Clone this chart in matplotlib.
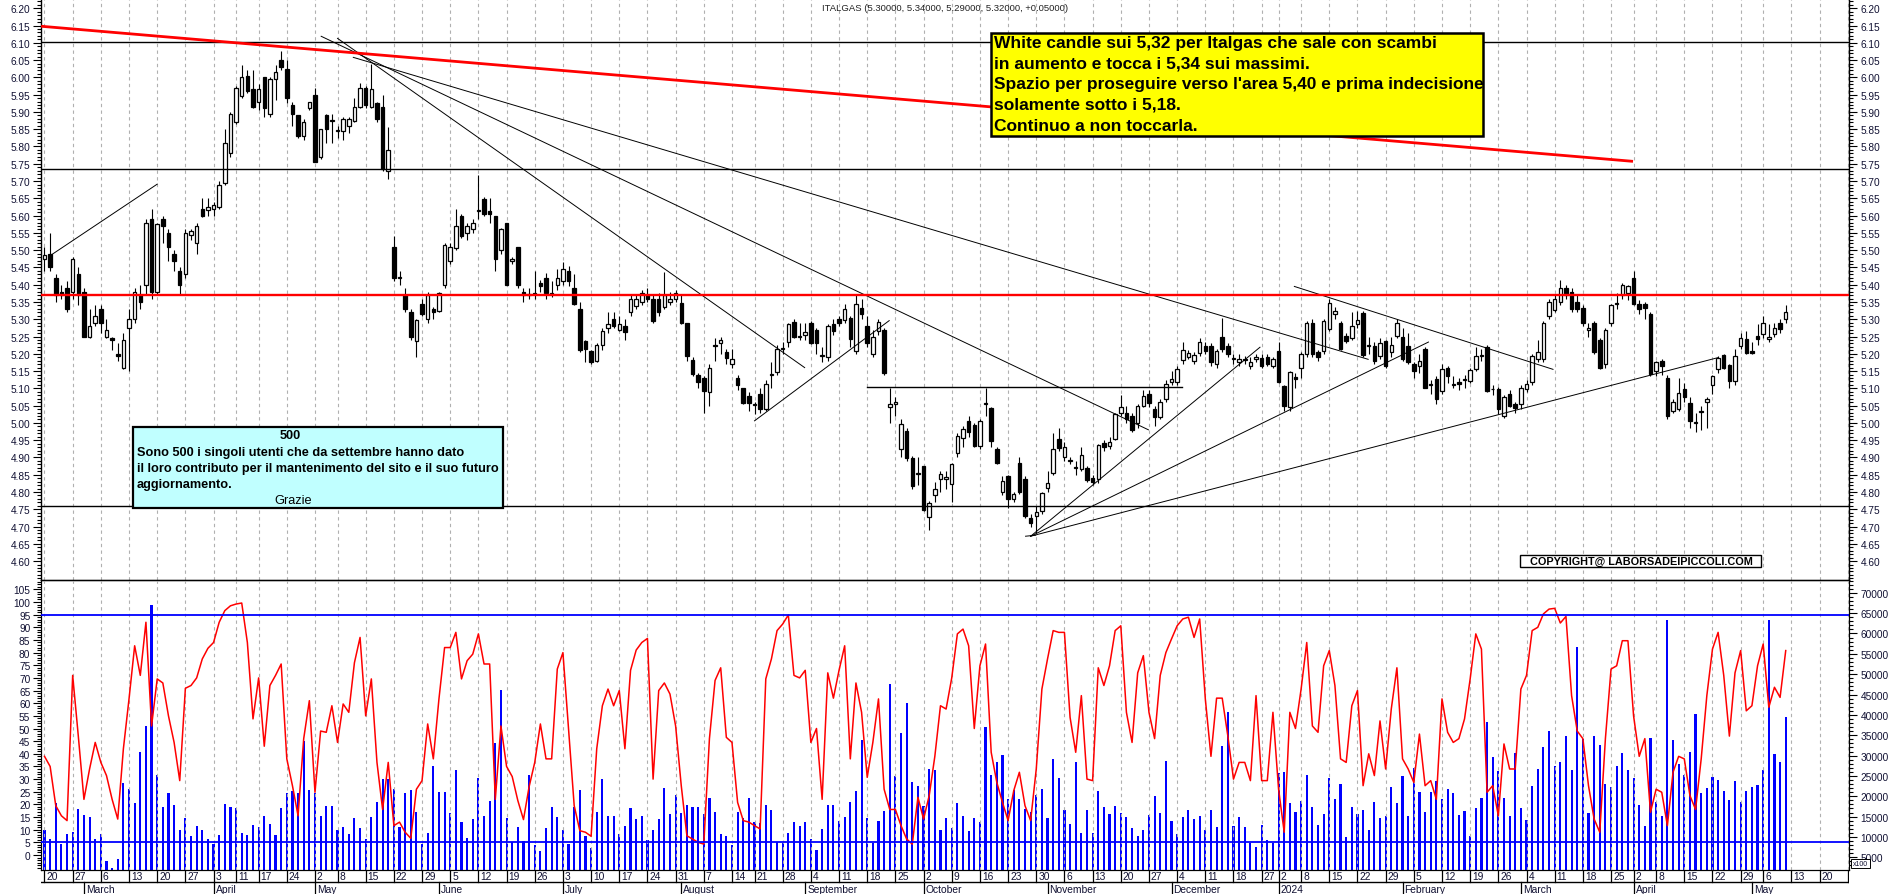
import numpy as np
import pandas as pd
import matplotlib
matplotlib.use('Agg')
import matplotlib.pyplot as plt
from matplotlib.patches import Rectangle
from matplotlib.ticker import MultipleLocator, FixedLocator

plt.rcParams['font.family'] = ['Liberation Sans', 'DejaVu Sans']

# ---------------- data ----------------
TITLE = 'ITALGAS (5.30000, 5.34000, 5.29000, 5.32000, +0.05000)'
FIRST_DAY = '2023-02-20'
HOLIDAYS = ['2023-04-07', '2023-04-10', '2023-05-01', '2023-08-15', '2023-12-25',
            '2023-12-26', '2024-01-01', '2024-03-29', '2024-04-01', '2024-05-01']

OPEN = [5.475, 5.49, 5.42, 5.38, 5.39, 5.38, 5.43, 5.38, 5.25, 5.29,
        5.33, 5.25, 5.245, 5.20, 5.16, 5.275, 5.30, 5.37, 5.40, 5.59,
        5.38, 5.59, 5.55, 5.49, 5.44, 5.43, 5.545, 5.52, 5.62, 5.615,
        5.62, 5.625, 5.695, 5.78, 5.87, 5.945, 6.005, 5.965, 5.93, 6.00,
        5.895, 5.995, 6.05, 6.025, 5.92, 5.89, 5.83, 5.91, 5.95, 5.77,
        5.89, 5.875, 5.846, 5.845, 5.86, 5.875, 5.915, 5.97, 5.915, 5.925,
        5.915, 5.73, 5.51, 5.42, 5.37, 5.32, 5.237, 5.343, 5.30, 5.33,
        5.325, 5.40, 5.47, 5.505, 5.60, 5.55, 5.56, 5.613, 5.648, 5.612,
        5.60, 5.50, 5.58, 5.47, 5.51, 5.38, 5.37, 5.374, 5.405, 5.42,
        5.374, 5.40, 5.41, 5.44, 5.39, 5.33, 5.238, 5.208, 5.18, 5.226,
        5.276, 5.30, 5.27, 5.28, 5.32, 5.338, 5.35, 5.37, 5.36, 5.36,
        5.335, 5.35, 5.36, 5.348, 5.29, 5.182, 5.138, 5.13, 5.088, 5.222,
        5.232, 5.206, 5.17, 5.131, 5.10, 5.078, 5.053, 5.085, 5.04, 5.138,
        5.146, 5.213, 5.233, 5.292, 5.249, 5.254, 5.29, 5.27, 5.193, 5.192,
        5.285, 5.30, 5.298, 5.305, 5.208, 5.334, 5.28, 5.199, 5.266, 5.27,
        5.045, 5.055, 4.924, 4.977, 4.897, 4.853, 4.875, 4.729, 4.79, 4.837,
        4.838, 4.822, 4.914, 4.955, 5.006, 4.993, 4.933, 5.056, 5.044, 4.924,
        4.80, 4.846, 4.781, 4.885, 4.839, 4.726, 4.731, 4.745, 4.813, 4.856,
        4.953, 4.90, 4.891, 4.87, 4.866, 4.87, 4.84, 4.837, 4.941, 4.933,
        4.953, 5.03, 5.03, 5.02, 4.999, 5.05, 5.083, 5.04, 5.018, 5.068,
        5.119, 5.117, 5.182, 5.192, 5.179, 5.203, 5.223, 5.223, 5.17, 5.25,
        5.223, 5.184, 5.175, 5.183, 5.165, 5.186, 5.189, 5.19, 5.165, 5.208,
        5.107, 5.047, 5.134, 5.16, 5.199, 5.29, 5.204, 5.208, 5.273, 5.314,
        5.29, 5.252, 5.247, 5.286, 5.319, 5.222, 5.222, 5.194, 5.237, 5.205,
        5.252, 5.25, 5.223, 5.17, 5.165, 5.215, 5.111, 5.128, 5.092, 5.16,
        5.111, 5.119, 5.125, 5.121, 5.155, 5.193, 5.22, 5.097, 5.099, 5.02,
        5.083, 5.054, 5.054, 5.097, 5.117, 5.184, 5.184, 5.31, 5.328, 5.35,
        5.39, 5.38, 5.35, 5.334, 5.269, 5.29, 5.24, 5.17, 5.29, 5.343,
        5.371, 5.375, 5.42, 5.343, 5.343, 5.314, 5.15, 5.179, 5.131, 5.035,
        5.04, 5.099, 5.059, 4.999, 5.031, 5.061, 5.109, 5.155, 5.196, 5.167,
        5.121, 5.223, 5.244, 5.208, 5.252, 5.257, 5.242, 5.257, 5.29, 5.30]

HIGH = [5.51, 5.55, 5.43, 5.40, 5.41, 5.48, 5.45, 5.39, 5.33, 5.34,
        5.34, 5.30, 5.25, 5.23, 5.26, 5.33, 5.39, 5.40, 5.59, 5.62,
        5.58, 5.60, 5.56, 5.50, 5.45, 5.56, 5.56, 5.58, 5.65, 5.65,
        5.64, 5.70, 5.85, 5.90, 5.975, 6.035, 6.02, 6.02, 5.98, 6.00,
        6.00, 6.035, 6.075, 6.05, 5.93, 5.89, 5.88, 5.93, 5.97, 5.85,
        5.895, 5.895, 5.86, 5.885, 5.885, 5.94, 5.985, 5.975, 6.04, 5.93,
        5.95, 5.855, 5.54, 5.44, 5.39, 5.33, 5.30, 5.36, 5.38, 5.335,
        5.38, 5.52, 5.52, 5.62, 5.605, 5.58, 5.59, 5.718, 5.655, 5.65,
        5.60, 5.565, 5.58, 5.48, 5.51, 5.39, 5.39, 5.44, 5.415, 5.435,
        5.41, 5.445, 5.465, 5.455, 5.43, 5.35, 5.24, 5.21, 5.23, 5.275,
        5.32, 5.32, 5.31, 5.30, 5.37, 5.37, 5.385, 5.39, 5.37, 5.375,
        5.436, 5.38, 5.385, 5.37, 5.29, 5.19, 5.145, 5.135, 5.17, 5.245,
        5.25, 5.215, 5.215, 5.14, 5.10, 5.09, 5.06, 5.10, 5.125, 5.175,
        5.225, 5.235, 5.29, 5.30, 5.29, 5.29, 5.295, 5.275, 5.22, 5.285,
        5.30, 5.31, 5.345, 5.31, 5.37, 5.36, 5.31, 5.27, 5.30, 5.275,
        5.10, 5.075, 5.01, 4.985, 4.905, 4.90, 4.875, 4.775, 4.83, 4.86,
        4.86, 4.885, 4.97, 4.99, 5.02, 5.00, 5.01, 5.10, 5.045, 4.93,
        4.845, 4.85, 4.80, 4.90, 4.845, 4.735, 4.76, 4.80, 4.86, 4.97,
        4.985, 4.945, 4.90, 4.89, 4.93, 4.875, 4.85, 4.94, 4.95, 4.96,
        5.03, 5.08, 5.05, 5.03, 5.055, 5.095, 5.095, 5.05, 5.07, 5.125,
        5.15, 5.165, 5.235, 5.21, 5.205, 5.245, 5.235, 5.23, 5.215, 5.305,
        5.23, 5.20, 5.20, 5.195, 5.19, 5.20, 5.20, 5.20, 5.19, 5.235,
        5.11, 5.15, 5.145, 5.205, 5.295, 5.30, 5.21, 5.30, 5.36, 5.335,
        5.295, 5.26, 5.32, 5.325, 5.325, 5.25, 5.235, 5.245, 5.24, 5.25,
        5.30, 5.275, 5.26, 5.175, 5.20, 5.22, 5.125, 5.135, 5.17, 5.165,
        5.135, 5.13, 5.14, 5.16, 5.22, 5.215, 5.225, 5.11, 5.105, 5.08,
        5.095, 5.06, 5.11, 5.125, 5.20, 5.24, 5.295, 5.36, 5.37, 5.415,
        5.40, 5.39, 5.37, 5.34, 5.29, 5.295, 5.245, 5.275, 5.345, 5.375,
        5.405, 5.40, 5.44, 5.355, 5.35, 5.32, 5.18, 5.185, 5.14, 5.07,
        5.13, 5.115, 5.075, 5.03, 5.05, 5.075, 5.14, 5.195, 5.20, 5.17,
        5.215, 5.26, 5.265, 5.235, 5.285, 5.31, 5.285, 5.29, 5.30, 5.34]

LOW = [5.44, 5.44, 5.35, 5.36, 5.32, 5.36, 5.34, 5.25, 5.245, 5.28,
       5.26, 5.245, 5.21, 5.18, 5.155, 5.15, 5.29, 5.33, 5.37, 5.36,
       5.37, 5.52, 5.47, 5.44, 5.37, 5.42, 5.53, 5.49, 5.595, 5.60,
       5.60, 5.62, 5.69, 5.77, 5.865, 5.94, 5.955, 5.91, 5.905, 5.885,
       5.885, 5.935, 6.02, 5.925, 5.86, 5.825, 5.82, 5.905, 5.755, 5.765,
       5.81, 5.81, 5.825, 5.82, 5.84, 5.87, 5.91, 5.91, 5.91, 5.87,
       5.73, 5.705, 5.41, 5.40, 5.32, 5.24, 5.19, 5.31, 5.29, 5.30,
       5.32, 5.39, 5.46, 5.50, 5.535, 5.53, 5.55, 5.59, 5.60, 5.58,
       5.44, 5.49, 5.40, 5.46, 5.39, 5.35, 5.36, 5.36, 5.38, 5.36,
       5.365, 5.385, 5.40, 5.395, 5.34, 5.205, 5.175, 5.17, 5.175, 5.21,
       5.26, 5.275, 5.265, 5.24, 5.31, 5.33, 5.34, 5.35, 5.29, 5.31,
       5.33, 5.34, 5.35, 5.285, 5.18, 5.135, 5.10, 5.03, 5.05, 5.18,
       5.20, 5.17, 5.16, 5.095, 5.055, 5.035, 5.025, 5.03, 5.035, 5.10,
       5.14, 5.20, 5.22, 5.245, 5.24, 5.24, 5.228, 5.20, 5.175, 5.18,
       5.255, 5.28, 5.29, 5.22, 5.20, 5.30, 5.22, 5.19, 5.255, 5.14,
       5.00, 5.02, 4.90, 4.89, 4.81, 4.82, 4.745, 4.69, 4.77, 4.80,
       4.81, 4.77, 4.90, 4.93, 4.96, 4.93, 4.925, 5.02, 4.93, 4.88,
       4.79, 4.755, 4.77, 4.795, 4.725, 4.70, 4.68, 4.735, 4.80, 4.85,
       4.92, 4.89, 4.88, 4.85, 4.86, 4.83, 4.82, 4.825, 4.92, 4.925,
       4.95, 5.02, 5.00, 4.975, 4.985, 5.045, 5.045, 4.99, 5.01, 5.06,
       5.11, 5.11, 5.17, 5.185, 5.17, 5.195, 5.20, 5.165, 5.16, 5.205,
       5.19, 5.17, 5.165, 5.17, 5.155, 5.175, 5.16, 5.165, 5.16, 5.115,
       5.035, 5.035, 5.10, 5.13, 5.19, 5.19, 5.18, 5.20, 5.265, 5.30,
       5.21, 5.23, 5.24, 5.275, 5.19, 5.20, 5.17, 5.185, 5.16, 5.19,
       5.245, 5.18, 5.17, 5.13, 5.145, 5.10, 5.085, 5.055, 5.085, 5.115,
       5.10, 5.095, 5.10, 5.115, 5.15, 5.18, 5.09, 5.08, 5.025, 5.015,
       5.045, 5.03, 5.04, 5.09, 5.11, 5.175, 5.175, 5.30, 5.32, 5.34,
       5.36, 5.32, 5.32, 5.28, 5.25, 5.20, 5.155, 5.16, 5.28, 5.33,
       5.36, 5.355, 5.34, 5.315, 5.30, 5.135, 5.135, 5.14, 5.01, 5.03,
       5.035, 5.06, 4.985, 4.975, 4.98, 4.985, 5.085, 5.145, 5.155, 5.10,
       5.11, 5.215, 5.20, 5.20, 5.225, 5.245, 5.235, 5.25, 5.26, 5.29]

CLOSE = [5.485, 5.45, 5.37, 5.37, 5.33, 5.475, 5.37, 5.25, 5.28, 5.31,
         5.29, 5.27, 5.24, 5.195, 5.24, 5.30, 5.38, 5.35, 5.58, 5.38,
         5.575, 5.57, 5.51, 5.47, 5.40, 5.55, 5.555, 5.57, 5.60, 5.625,
         5.63, 5.69, 5.81, 5.895, 5.97, 6.00, 5.96, 5.915, 5.965, 5.91,
         5.995, 6.015, 6.03, 5.94, 5.895, 5.83, 5.87, 5.93, 5.756, 5.85,
         5.85, 5.878, 5.847, 5.88, 5.88, 5.915, 5.97, 5.92, 5.965, 5.88,
         5.735, 5.79, 5.42, 5.423, 5.33, 5.25, 5.298, 5.315, 5.37, 5.32,
         5.375, 5.515, 5.51, 5.57, 5.54, 5.57, 5.58, 5.616, 5.605, 5.605,
         5.475, 5.56, 5.40, 5.475, 5.40, 5.37, 5.372, 5.376, 5.395, 5.375,
         5.376, 5.42, 5.445, 5.41, 5.345, 5.212, 5.213, 5.175, 5.226, 5.266,
         5.286, 5.28, 5.285, 5.262, 5.36, 5.358, 5.375, 5.36, 5.295, 5.32,
         5.37, 5.358, 5.375, 5.29, 5.194, 5.141, 5.117, 5.093, 5.16, 5.224,
         5.24, 5.189, 5.185, 5.109, 5.059, 5.057, 5.055, 5.04, 5.112, 5.140,
         5.213, 5.217, 5.286, 5.25, 5.251, 5.262, 5.232, 5.232, 5.195, 5.28,
         5.266, 5.29, 5.331, 5.244, 5.343, 5.314, 5.232, 5.25, 5.292, 5.143,
         5.055, 5.060, 4.996, 4.897, 4.816, 4.855, 4.748, 4.767, 4.808, 4.851,
         4.843, 4.88, 4.962, 4.982, 4.974, 4.933, 5.006, 5.058, 4.948, 4.885,
         4.832, 4.779, 4.793, 4.80, 4.731, 4.709, 4.741, 4.796, 4.827, 4.924,
         4.926, 4.929, 4.893, 4.872, 4.906, 4.836, 4.83, 4.937, 4.929, 4.945,
         5.025, 5.047, 5.012, 4.98, 5.05, 5.078, 5.057, 5.018, 5.061, 5.112,
         5.128, 5.155, 5.211, 5.202, 5.196, 5.234, 5.208, 5.175, 5.208, 5.213,
         5.199, 5.186, 5.184, 5.186, 5.177, 5.19, 5.165, 5.17, 5.184, 5.119,
         5.05, 5.146, 5.126, 5.199, 5.29, 5.199, 5.192, 5.295, 5.346, 5.324,
         5.213, 5.237, 5.281, 5.298, 5.196, 5.224, 5.18, 5.232, 5.165, 5.225,
         5.29, 5.184, 5.175, 5.15, 5.18, 5.102, 5.113, 5.07, 5.155, 5.136,
         5.113, 5.112, 5.127, 5.152, 5.194, 5.195, 5.093, 5.099, 5.04, 5.076,
         5.049, 5.044, 5.102, 5.112, 5.194, 5.204, 5.29, 5.35, 5.36, 5.39,
         5.37, 5.33, 5.329, 5.288, 5.276, 5.205, 5.16, 5.27, 5.34, 5.347,
         5.40, 5.395, 5.343, 5.329, 5.334, 5.141, 5.177, 5.165, 5.02, 5.06,
         5.086, 5.076, 5.006, 5.001, 5.033, 5.068, 5.136, 5.189, 5.16, 5.121,
         5.194, 5.247, 5.202, 5.203, 5.244, 5.29, 5.25, 5.276, 5.271, 5.32]

# oscillator (left scale of the lower panel)
OSC = [39, 35, 19.5, 15.5, 13.6, 71, 47, 22, 34, 44.5,
       36.6, 31.4, 22, 14.2, 42, 61.7, 82.7, 71, 92, 51,
       69.6, 68, 55, 44.5, 29.4, 65.9, 67, 70, 77.5, 81.7,
       84, 92, 96.6, 98.5, 99.2, 99.6, 84, 53.8, 70, 43,
       67, 71, 75.5, 38, 27.4, 15.5, 46, 61, 24.8, 49,
       48.5, 59, 44.5, 59.7, 56.4, 76, 86, 55, 69.6, 36.6,
       18, 36.6, 11.6, 13, 9, 6.6, 26, 29.4, 51.8, 38,
       61.7, 82, 82, 88, 69.6, 76.8, 79.4, 87.4, 75.5, 75.5,
       22, 51, 35, 31, 21.5, 14, 27, 36.6, 51.8, 38,
       38, 73.5, 80, 50, 19.5, 9.6, 9, 7.4, 42, 59,
       65.6, 59, 65, 42, 73, 81, 84, 85.6, 30, 65,
       68, 63.6, 51, 27.4, 7.6, 6.3, 5, 4.3, 46, 69,
       74, 46.5, 44.5, 20.8, 13.6, 13, 11.6, 10.3, 69.6, 77.5,
       88.7, 91.3, 94.9, 71, 70, 73, 44.5, 50, 22, 72,
       62, 73, 82.7, 38, 68, 56.4, 30.7, 44.5, 61.7, 26,
       18, 18, 11.6, 6.3, 4.3, 22.8, 14.2, 23.5, 39, 59,
       57.7, 70, 87.4, 89.3, 82.7, 50, 74.8, 83.4, 40.6, 28.7,
       20.8, 13.6, 25.4, 32.7, 19.5, 13.6, 34, 65.6, 77.5, 88.7,
       88, 88, 54.4, 40.6, 63, 30, 29.4, 74, 67, 74.8,
       88.7, 90.6, 56.4, 44.5, 72, 78.8, 56.4, 46, 71, 80,
       85.4, 90.6, 93.3, 94, 86, 93.3, 61.7, 39, 62, 62,
       47, 30, 36.6, 36.6, 29.4, 63, 29.4, 29.4, 56.4, 26,
       9, 56.4, 50, 65.6, 84, 51, 48.5, 74.8, 80.8, 67,
       38, 36.6, 59, 65, 27.4, 40, 31.4, 53, 34, 57.7,
       74, 38, 34, 28.7, 47.8, 27.4, 29.4, 22, 61.7, 48.5,
       44.5, 46, 53.8, 69.6, 87.4, 81.4, 24.8, 27.4, 15.5, 43.9,
       34, 34, 65.6, 71, 88.7, 90, 95.3, 97.2, 97.5, 91.7,
       94.3, 63, 49, 46, 27.4, 14.2, 9, 46, 73.5, 74.8,
       84.7, 84.7, 55, 39, 46, 16.9, 26, 24.8, 11.6, 32.7,
       39, 38, 23.5, 18, 38, 63, 81.4, 88, 71, 47,
       72, 80.8, 57, 59, 74.8, 83.4, 58.4, 66.3, 62.3, 80.8]

# volume in thousands of the right-hand scale units (axis is x100)
VOLUME_K = [11.6, 9.5, 18.4, 8.3, 10.7, 11.3, 16.9, 15.4, 14.8, 9.5,
            10.7, 4.2, 2.3, 4.6, 23.3, 21.8, 18.4, 30.8, 37.2, 67,
            25.2, 17.3, 20.8, 17.9, 11.8, 14.6, 10.2, 12.6, 11.6, 9.5,
            8.3, 10.5, 18.1, 17.3, 17, 11.1, 10.6, 13, 12.4, 15.2,
            13.2, 10.5, 17, 20.7, 21.4, 20.8, 33.7, 21.6, 20.7, 15.1,
            17.7, 17.5, 11.6, 12.5, 10.7, 14.6, 12.1, 9.5, 14.8, 18.5,
            24.3, 24.3, 21.8, 12.4, 20.7, 21.5, 16.2, 8.3, 11.1, 27.4,
            21, 21, 15.8, 26.5, 13.8, 9.8, 14.4, 24.4, 15.2, 18.9,
            33.1, 46.2, 14.7, 8.7, 12.4, 8.9, 25.2, 8, 6.5, 12.3,
            17.3, 14.8, 11.8, 8.2, 17.3, 21.6, 10.3, 7.2, 16.2, 24.3,
            15.1, 15.1, 10.7, 12.8, 17, 14.4, 15.1, 9.3, 11.8, 14.3,
            22, 15.7, 20.3, 15.8, 17.9, 17.3, 17.3, 15.6, 19.6, 16.1,
            10.7, 10.2, 8, 16.1, 14.6, 19.5, 13.8, 13.4, 17.9, 16.6,
            8.7, 8.4, 11, 13.6, 12.6, 13.6, 9.5, 6.9, 12, 17.9,
            17.9, 14, 14.8, 18.5, 21.4, 33.9, 14.6, 8.4, 14, 16.4,
            47.6, 24.9, 35.5, 42.8, 23.6, 22.6, 17.7, 26.7, 26.5, 11.8,
            14.6, 12.3, 18.4, 15.1, 11.4, 14.7, 13.8, 37.1, 25.2, 28.3,
            30.2, 19.3, 21.6, 19.3, 16.9, 16.1, 20.2, 21.8, 14.7, 29.2,
            24.5, 16.6, 13.2, 28.5, 11.1, 16.7, 11, 21.4, 17.3, 15.7,
            17.7, 15.9, 14.8, 12.2, 10.3, 11.7, 15.5, 20, 15.8, 28.7,
            14, 10.7, 14.8, 16.7, 14.3, 15.2, 11.6, 16.7, 12.5, 32.4,
            40.6, 12.8, 15, 12.4, 8.4, 7.5, 12.9, 9.3, 8.4, 25.6,
            26, 18.4, 16.1, 18.9, 25.3, 17.3, 13, 15.7, 24.5, 19.3,
            23, 9.9, 17.3, 15.7, 16.7, 11.8, 18.7, 14.7, 15.2, 22.2,
            18.4, 25.1, 15.1, 26.9, 21, 16.1, 21.1, 23.8, 19.3, 21.8,
            20.7, 15.4, 16.3, 10.3, 17.1, 19.7, 38.2, 29.6, 26.2, 19.7,
            15.2, 30.6, 17, 14.2, 22.6, 26.7, 32, 36, 27.4, 28.3,
            34.7, 26.5, 56.6, 34.1, 15.9, 34.9, 32.6, 23, 22.4, 27.4,
            30.6, 26.5, 24.5, 17.9, 12.8, 34.2, 18.7, 15.1, 63.3, 33.9,
            27.9, 25.2, 30.8, 40.1, 20.8, 22, 24.7, 24, 21.4, 19.2,
            23.8, 18.7, 21.4, 22.2, 22.8, 26.5, 63.4, 30.3, 28.5, 39.4]

# drawn lines: (bar index, price) start and end
RED_TREND = [(-0.6, 6.148, 281.9, 5.757)]
RED_LEVEL = 5.371
BLACK_LEVELS = [6.103, 5.734, 4.760]
SHORT_LEVEL = (146.0, 201.9, 5.103)
THIN_LINES = [(1.0, 5.484, 20.0, 5.691),
              (52.0, 6.113, 134.9, 5.160),
              (49.1, 6.119, 195.9, 4.980),
              (54.8, 6.058, 234.9, 5.184),
              (221.8, 5.395, 267.7, 5.155),
              (126.0, 5.006, 149.9, 5.296),
              (175.0, 4.672, 215.7, 5.219),
              (175.0, 4.672, 245.6, 5.234),
              (175.0, 4.672, 297.0, 5.189),
              (174.1, 4.672, 175.9, 4.675)]
OSC_LEVELS = [95, 5]

YELLOW_TEXT = ["White candle sui 5,32 per Italgas che sale con scambi",
               "in aumento e tocca i 5,34 sui massimi.",
               "Spazio per proseguire verso l'area 5,40 e prima indecisione",
               "solamente sotto i 5,18.",
               "Continuo a non toccarla."]
CYAN_HEAD = "500"
CYAN_TEXT = ["Sono 500 i singoli utenti che da settembre hanno dato",
             "il loro contributo per il mantenimento del sito e il suo futuro",
             "aggiornamento."]
CYAN_FOOT = "Grazie"
COPYRIGHT = "COPYRIGHT@ LABORSADEIPICCOLI.COM"

MONTHS = ['January', 'February', 'March', 'April', 'May', 'June', 'July',
          'August', 'September', 'October', 'November', 'December']

# ---------------- calendar ----------------
cal = pd.bdate_range(FIRST_DAY, '2024-06-07', freq='C', holidays=HOLIDAYS)
n = len(CLOSE)
assert len(OPEN) == n and len(HIGH) == n and len(LOW) == n
assert len(OSC) == n and len(VOLUME_K) == n, (len(OSC), len(VOLUME_K))

XMIN, XMAX = -0.55, 320.3
week_starts, month_starts = [0], []
for i in range(1, len(cal)):
    if i > XMAX:
        break
    if cal[i].weekday() < cal[i - 1].weekday():
        week_starts.append(i)
    if cal[i].month != cal[i - 1].month:
        month_starts.append(i)

# ---------------- figure ----------------
W, H = 1890, 895
fig = plt.figure(figsize=(W / 100, H / 100), dpi=100)
fig.patch.set_facecolor('white')

def fx(px):
    return px / W

def fy(py):
    return 1 - py / H

L, R = 41.4, 1849.4
ax = fig.add_axes([fx(L), fy(581), fx(R - L), 581 / H])
ax2 = fig.add_axes([fx(L), fy(870.5), fx(R - L), (870.5 - 581) / H])
axd = fig.add_axes([fx(L), 0, fx(R - L), 24.5 / H])
axv = ax2.twinx()

LABEL_COLOR = '#111133'
GRID_KW = dict(color='#b0b0b0', ls=(0, (3, 3)), lw=0.8, zorder=0)

x = np.arange(n)
o, h, l, c = map(np.array, (OPEN, HIGH, LOW, CLOSE))

# price panel
for w in week_starts:
    ax.axvline(w, **GRID_KW)
ax.vlines(x, l, h, color='black', lw=0.8, zorder=3)
up = c >= o
lo = np.minimum(o, c)
bh = np.maximum(np.abs(c - o), 0.0025)
ax.bar(x[up], bh[up], bottom=lo[up], width=0.62, facecolor='white',
       edgecolor='black', lw=0.9, zorder=4)
ax.bar(x[~up], bh[~up], bottom=lo[~up], width=0.62, facecolor='black',
       edgecolor='black', lw=0.9, zorder=4)

for lev in BLACK_LEVELS:
    ax.axhline(lev, color='black', lw=1.0, zorder=5)
ax.plot([SHORT_LEVEL[0], SHORT_LEVEL[1]], [SHORT_LEVEL[2]] * 2, color='black', lw=1.0, zorder=5)
for x1, y1, x2, y2 in THIN_LINES:
    ax.plot([x1, x2], [y1, y2], color='black', lw=0.7, zorder=5)
ax.axhline(RED_LEVEL, color='#ff0000', lw=1.7, zorder=6)
for x1, y1, x2, y2 in RED_TREND:
    ax.plot([x1, x2], [y1, y2], color='#ff0000', lw=2.0, zorder=6, solid_capstyle='butt')

ax.set_xlim(XMIN, XMAX)
ax.set_ylim(4.5453, 6.2269)
ax.yaxis.set_major_locator(FixedLocator(np.round(np.arange(4.60, 6.2001, 0.05), 2)))
ax.yaxis.set_minor_locator(MultipleLocator(0.01))
ax.yaxis.set_major_formatter(plt.FormatStrFormatter('%.2f'))
ax.tick_params(axis='y', which='both', direction='out', left=True, right=True,
               labelleft=True, labelright=True, labelsize=7.3, labelcolor=LABEL_COLOR,
               pad=2, width=0.8)
ax.tick_params(axis='y', which='major', length=6)
ax.tick_params(axis='y', which='minor', length=3)
ax.set_xticks([])
ax.spines['top'].set_visible(False)
for s in ('left', 'right', 'bottom'):
    ax.spines[s].set_linewidth(1.0)

# lower panel
for w in week_starts:
    ax2.axvline(w, **GRID_KW)
axv.bar(x, np.array(VOLUME_K) * 1000, width=0.38, color='#0000ff', zorder=2)
axv.set_ylim(2010, 73140)
ax2.set_zorder(axv.get_zorder() + 1)
ax2.patch.set_visible(False)
ax2.plot(x, OSC, color='#ff0000', lw=1.1, zorder=3)
for lev in OSC_LEVELS:
    ax2.axhline(lev, color='#0000ff', lw=1.3, zorder=4)
ax2.set_xlim(XMIN, XMAX)
axv.set_xlim(XMIN, XMAX)
ax2.set_ylim(-5.73, 108.7)
ax2.yaxis.set_major_locator(FixedLocator(np.arange(0, 106, 5)))
ax2.yaxis.set_minor_locator(MultipleLocator(1))
ax2.tick_params(axis='y', which='both', direction='out', labelsize=7.3,
                labelcolor=LABEL_COLOR, pad=2, width=0.8)
ax2.tick_params(axis='y', which='major', length=6)
ax2.tick_params(axis='y', which='minor', length=3)
ax2.set_xticks([])
axv.yaxis.set_major_locator(FixedLocator(np.arange(5000, 70001, 5000)))
axv.yaxis.set_minor_locator(MultipleLocator(1000))
axv.tick_params(axis='y', which='both', direction='out', labelsize=7.3,
                labelcolor=LABEL_COLOR, pad=2, width=0.8)
axv.tick_params(axis='y', which='major', length=6)
axv.tick_params(axis='y', which='minor', length=3)
axv.set_xticks([])

# date strip
axd.set_xlim(XMIN, XMAX)
axd.set_ylim(0, 24.5)
axd.axis('off')
axd.axhline(11.7, color='black', lw=1.0)
for w in week_starts:
    axd.plot([w, w], [11.7, 24.5], color='black', lw=0.9)
    axd.text(w + 0.35, 18.3, str(cal[w].day), ha='left', va='center', fontsize=7.4,
             color=LABEL_COLOR, clip_on=True)
for m in month_starts:
    d = cal[m]
    name = str(d.year) if d.month == 1 else MONTHS[d.month - 1]
    axd.plot([m, m], [0, 11.7], color='black', lw=0.9)
    axd.text(m + 0.35, 4.8, name, ha='left', va='center', fontsize=7.4, color=LABEL_COLOR)

# ---------------- texts & boxes ----------------
fig.text(fx(945), fy(8.3), TITLE, ha='center', va='center', fontsize=6.8, color='#222222')

fig.add_artist(Rectangle((fx(990.8), fy(136.7)), fx(492.2), 102.4 / H, transform=fig.transFigure,
                         facecolor='#ffff00', edgecolor='black', lw=1.8, zorder=8))
for k, line in enumerate(YELLOW_TEXT):
    fig.text(fx(993.6), fy(43.3 + 20.7 * k), line, ha='left', va='center', fontsize=12.5,
             fontweight='bold', color='black', zorder=9)

fig.add_artist(Rectangle((fx(132.6), fy(509)), fx(370.4), 81.3 / H, transform=fig.transFigure,
                         facecolor='#c0ffff', edgecolor='black', lw=1.6, zorder=8))
fig.text(fx(290), fy(436), CYAN_HEAD, ha='center', va='center', fontsize=9.2,
         fontweight='bold', zorder=9)
for k, line in enumerate(CYAN_TEXT):
    fig.text(fx(136.6), fy(452.7 + 16.2 * k), line, ha='left', va='center', fontsize=9.2,
             fontweight='bold', zorder=9)
fig.text(fx(293), fy(501), CYAN_FOOT, ha='center', va='center', fontsize=9.2, zorder=9)

fig.add_artist(Rectangle((fx(1520.4), fy(567.7)), fx(241), 11.7 / H, transform=fig.transFigure,
                         facecolor='white', edgecolor='black', lw=1.0, zorder=8))
fig.text(fx(1641), fy(562), COPYRIGHT, ha='center', va='center', fontsize=7.8,
         fontweight='bold', zorder=9)

fig.add_artist(Rectangle((fx(1851.5), fy(869.3)), fx(18.5), 9.3 / H, transform=fig.transFigure,
                         facecolor='white', edgecolor='black', lw=0.7, zorder=8))
fig.text(fx(1860.7), fy(864.6), 'x100', ha='center', va='center', fontsize=5,
         color=LABEL_COLOR, zorder=9)

fig.savefig('out.png', dpi=100, facecolor='white')
